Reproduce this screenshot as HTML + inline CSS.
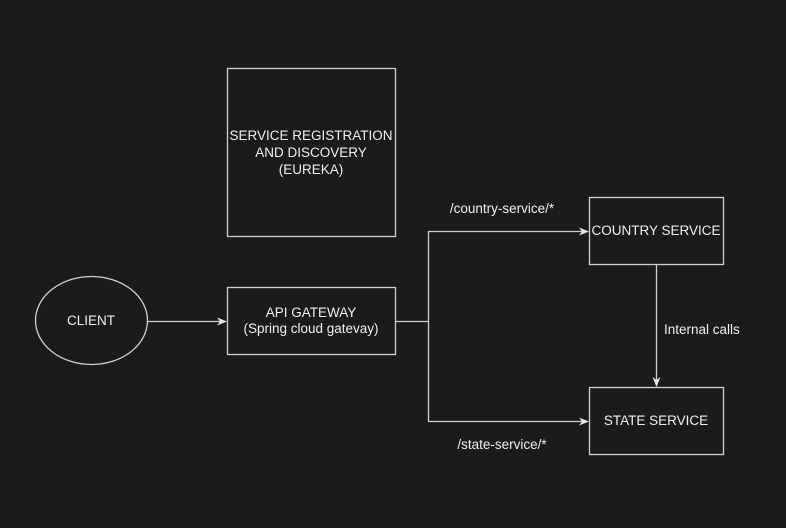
<!DOCTYPE html>
<html><head><style>html,body{margin:0;padding:0;background:#1b1b1d;}svg{display:block}</style></head>
<body>
<svg width="786" height="528" xmlns="http://www.w3.org/2000/svg" font-family="Liberation Sans, Arial, sans-serif" font-size="13.5" fill="#f0f0f0">
<rect width="786" height="528" fill="#1b1b1d"/>
<defs><marker id="a" markerWidth="10" markerHeight="10" refX="9" refY="5" orient="auto" markerUnits="userSpaceOnUse"><path d="M0,1 L10,5 L0,9 L3,5 Z" fill="#e6e6e6"/></marker></defs>
<g stroke="#cfcfcf" stroke-width="1.3" fill="none">
<rect x="227.5" y="68.5" width="168" height="168"/>
<rect x="227.5" y="287.5" width="168" height="67"/>
<rect x="589.5" y="197.5" width="134" height="67"/>
<rect x="589.5" y="387.5" width="134" height="67"/>
<ellipse cx="91.5" cy="320.5" rx="56" ry="44"/>
<path d="M148 321.5 H226" marker-end="url(#a)"/>
<path d="M396 321.5 H428.5 V231.5 H588" marker-end="url(#a)"/>
<path d="M428.5 321.5 V421.5 H588" marker-end="url(#a)"/>
<path d="M656.5 265 V386" marker-end="url(#a)"/>
</g>
<g text-anchor="middle">
<text x="311" y="140">SERVICE REGISTRATION</text>
<text x="311" y="157">AND DISCOVERY</text>
<text x="311" y="174">(EUREKA)</text>
<text x="311" y="317">API GATEWAY</text>
<text x="311" y="333">(Spring cloud gatevay)</text>
<text x="656" y="235">COUNTRY SERVICE</text>
<text x="656" y="425">STATE SERVICE</text>
<text x="91" y="325">CLIENT</text>
<text x="502" y="213">/country-service/*</text>
<text x="502" y="449">/state-service/*</text>
</g>
<text x="664" y="334">Internal calls</text>
</svg>
</body></html>
